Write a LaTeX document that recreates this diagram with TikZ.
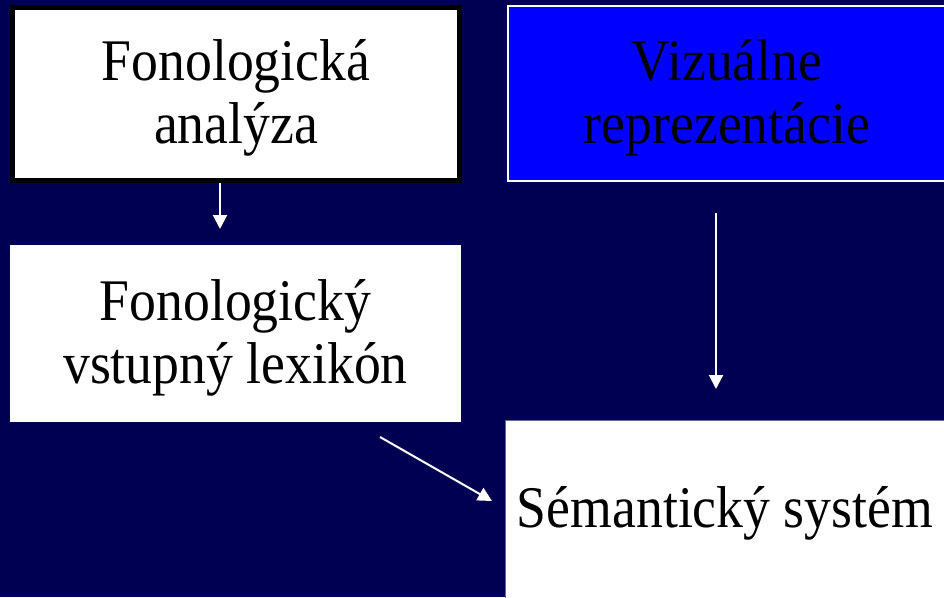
\documentclass[tikz,border=0pt]{standalone}
\usepackage{fontspec}
\setmainfont{Liberation Serif}[FakeStretch=0.91]
\usepackage{tikz}
\usetikzlibrary{arrows.meta,positioning}

\definecolor{navy}{RGB}{0,0,82}
\definecolor{vblue}{RGB}{0,0,255}

\tikzset{
  box/.style={rectangle, fill=white, align=center, inner sep=0pt, text depth=5pt,
    font=\fontsize{59}{63}\selectfont},
}

\begin{document}
\begin{tikzpicture}[x=1pt, y=1pt, >={Triangle[length=14pt,width=14pt]}]
\fill[navy] (0,0) rectangle (944,-597);
\useasboundingbox (0,0) rectangle (944,-597);
\node (fa) [box, draw=black, line width=5pt, minimum width=447pt, minimum height=173pt]
  at (236,-94) {Fonologická\\analýza};
\node (vr) [box, fill=vblue, draw=white, line width=2pt, minimum width=438pt, minimum height=175pt]
  at (727,-93.5) {Vizuálne\\reprezentácie};
\node (fl) [box, minimum width=451pt, minimum height=177pt]
  at (235.5,-333.5) {Fonologický\\vstupný lexikón};
\node (ss) [box, draw=navy!60!white, line width=0.8pt, minimum width=440pt, minimum height=178pt]
  at (725,-509) {Sémantický systém};
% free arrow ends
\coordinate (a1) at (220,-183);
\coordinate (b1) at (220,-229);
\coordinate (a2) at (716,-213);
\coordinate (b2) at (716,-389);
\coordinate (a3) at (380,-437);
\coordinate (b3) at (492,-501);
\draw[->, white, line width=2pt] (a1) -- (b1);
\draw[->, white, line width=2pt] (a2) -- (b2);
\draw[->, white, line width=2pt] (a3) -- (b3);
\end{tikzpicture}
\end{document}
